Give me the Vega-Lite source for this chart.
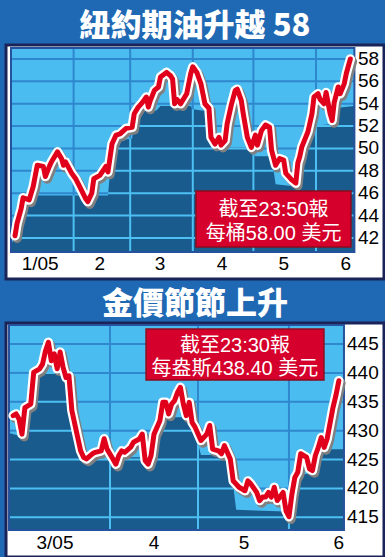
{
"$schema": "https://vega.github.io/schema/vega-lite/v6.json",
"background": "#1f68b3",
"padding": {"left": 4, "top": 9, "right": 3, "bottom": 2},
"spacing": 6,
"config": {
  "view": {"fill": "white", "stroke": "#1b2459", "strokeWidth": 3},
  "title": {"font": "Noto Sans CJK TC", "fontSize": 31, "fontWeight": 900, "color": "white", "anchor": "middle", "offset": 2}
},
"datasets": {
  "one": [{}],
  "oilXLab": [{"d":"2005-01-15T10:00:00Z","t":"1/05"},{"d":"2005-02-14","t":"2"},{"d":"2005-03-15T19:00:00Z","t":"3"},{"d":"2005-04-15T12:00:00Z","t":"4"},{"d":"2005-05-16","t":"5"},{"d":"2005-06-15T19:00:00Z","t":"6"}],
  "oilYLab": [{"v":42,"t":"42"},{"v":44,"t":"44"},{"v":46,"t":"46"},{"v":48,"t":"48"},{"v":50,"t":"50"},{"v":52,"t":"52"},{"v":54,"t":"54"},{"v":56,"t":"56"},{"v":58,"t":"58"}],
  "goldXLab": [{"d":"2005-03-13T06:00:00Z","t":"3/05"},{"d":"2005-04-16","t":"4"},{"d":"2005-05-16T16:00:00Z","t":"5"},{"d":"2005-06-18","t":"6"}],
  "goldYLab": [{"v":415,"t":"415"},{"v":420,"t":"420"},{"v":425,"t":"425"},{"v":430,"t":"430"},{"v":435,"t":"435"},{"v":440,"t":"440"},{"v":445,"t":"445"}],
  "oil": [
    {"d":"2005-01-03","v":42.2},{"d":"2005-01-04","v":43.3},{"d":"2005-01-06","v":44.6},{"d":"2005-01-07","v":45.6},
    {"d":"2005-01-10","v":45.4},{"d":"2005-01-12","v":46.6},{"d":"2005-01-14","v":48.5},{"d":"2005-01-17","v":48.4},
    {"d":"2005-01-18","v":47.5},{"d":"2005-01-20","v":48.4},{"d":"2005-01-21","v":48.8},{"d":"2005-01-24","v":49.7},
    {"d":"2005-01-26","v":49.1},{"d":"2005-01-27","v":48.5},{"d":"2005-01-28","v":48.8},{"d":"2005-01-31","v":47.8},
    {"d":"2005-02-02","v":47.3},{"d":"2005-02-04","v":46.6},{"d":"2005-02-07","v":45.5},{"d":"2005-02-08","v":45.25},
    {"d":"2005-02-10","v":46.0},{"d":"2005-02-11","v":47.3},{"d":"2005-02-14","v":47.6},{"d":"2005-02-17","v":48.4},
    {"d":"2005-02-18","v":47.9},{"d":"2005-02-20","v":50.4},{"d":"2005-02-22","v":51.2},{"d":"2005-02-24","v":51.3},
    {"d":"2005-02-27","v":51.8},{"d":"2005-03-02","v":51.9},{"d":"2005-03-03","v":53.1},{"d":"2005-03-05","v":53.7},
    {"d":"2005-03-07","v":54.1},{"d":"2005-03-09","v":54.6},{"d":"2005-03-10","v":53.7},{"d":"2005-03-11","v":54.3},
    {"d":"2005-03-13","v":55.2},{"d":"2005-03-15","v":55.5},{"d":"2005-03-16","v":56.4},{"d":"2005-03-19","v":56.8},
    {"d":"2005-03-21","v":56.5},{"d":"2005-03-22","v":56.2},{"d":"2005-03-23","v":54.0},{"d":"2005-03-24","v":54.4},
    {"d":"2005-03-26","v":54.0},{"d":"2005-03-28","v":54.6},{"d":"2005-03-29","v":54.9},{"d":"2005-03-31","v":56.7},
    {"d":"2005-04-01","v":57.3},{"d":"2005-04-03","v":56.8},{"d":"2005-04-05","v":55.8},{"d":"2005-04-07","v":54.0},
    {"d":"2005-04-09","v":53.6},{"d":"2005-04-10","v":51.0},{"d":"2005-04-12","v":50.4},{"d":"2005-04-14","v":51.0},
    {"d":"2005-04-15","v":50.3},{"d":"2005-04-17","v":50.7},{"d":"2005-04-18","v":52.2},{"d":"2005-04-20","v":53.85},
    {"d":"2005-04-22","v":55.2},{"d":"2005-04-23","v":55.3},{"d":"2005-04-25","v":54.3},{"d":"2005-04-26","v":53.1},
    {"d":"2005-04-28","v":51.0},{"d":"2005-04-30","v":50.1},{"d":"2005-05-02","v":51.2},{"d":"2005-05-03","v":50.3},
    {"d":"2005-05-05","v":51.6},{"d":"2005-05-07","v":52.1},{"d":"2005-05-09","v":51.9},{"d":"2005-05-10","v":49.85},
    {"d":"2005-05-12","v":48.5},{"d":"2005-05-14","v":49.1},{"d":"2005-05-16","v":48.96},{"d":"2005-05-17","v":47.8},
    {"d":"2005-05-20","v":47.2},{"d":"2005-05-22","v":46.9},{"d":"2005-05-23","v":48.7},{"d":"2005-05-24","v":49.3},
    {"d":"2005-05-25","v":50.15},{"d":"2005-05-28","v":51.5},{"d":"2005-05-30","v":53.1},{"d":"2005-05-31","v":54.6},
    {"d":"2005-06-02","v":54.9},{"d":"2005-06-03","v":54.4},{"d":"2005-06-05","v":54.0},{"d":"2005-06-06","v":55.0},
    {"d":"2005-06-08","v":53.1},{"d":"2005-06-09","v":52.5},{"d":"2005-06-10","v":54.1},{"d":"2005-06-12","v":55.5},
    {"d":"2005-06-13","v":54.9},{"d":"2005-06-15","v":55.8},{"d":"2005-06-16","v":56.7},{"d":"2005-06-18","v":58.0}
  ],
  "oilFloor": [
    {"d":"2005-01-01","f":41.5},{"d":"2005-01-03","f":41.9},{"d":"2005-01-04","f":42.8},{"d":"2005-01-06","f":44.2},
    {"d":"2005-01-07","f":45.2},{"d":"2005-01-10","f":45.2},{"d":"2005-01-12","f":45.8},{"d":"2005-02-04","f":45.8},
    {"d":"2005-02-08","f":45.1},{"d":"2005-02-10","f":45.5},{"d":"2005-02-11","f":45.8},{"d":"2005-02-18","f":45.8},
    {"d":"2005-02-20","f":49.8},{"d":"2005-02-22","f":50.7},{"d":"2005-03-02","f":50.9},{"d":"2005-03-03","f":52.8},
    {"d":"2005-03-05","f":53.3},{"d":"2005-03-14","f":53.4},{"d":"2005-03-16","f":53.8},{"d":"2005-03-31","f":53.8},
    {"d":"2005-04-01","f":53.5},{"d":"2005-04-09","f":53.3},{"d":"2005-04-10","f":50.5},{"d":"2005-04-12","f":50.1},
    {"d":"2005-04-28","f":50.1},{"d":"2005-04-30","f":49.7},{"d":"2005-05-02","f":49.3},{"d":"2005-05-10","f":49.3},
    {"d":"2005-05-11","f":48.0},{"d":"2005-05-12","f":46.8},{"d":"2005-05-22","f":46.6},{"d":"2005-05-23","f":48.3},
    {"d":"2005-05-24","f":49.0},{"d":"2005-05-25","f":49.7},{"d":"2005-05-28","f":49.8},{"d":"2005-05-30","f":52.0},
    {"d":"2005-06-09","f":52.2},{"d":"2005-06-10","f":53.6},{"d":"2005-06-20","f":53.8}
  ],
  "oilH": [{"v":42},{"v":44},{"v":46},{"v":48},{"v":50},{"v":52},{"v":54},{"v":56},{"v":58}],
  "oilV": [{"d":"2005-02-01","f":45.8},{"d":"2005-03-01","f":50.9},{"d":"2005-04-01","f":53.5},{"d":"2005-05-01","f":49.5},{"d":"2005-06-01","f":52.05}],
  "oilSeg": [
    {"v":58,"a":"2005-01-01","b":"2005-06-20"},{"v":56,"a":"2005-01-01","b":"2005-06-20"},{"v":54,"a":"2005-01-01","b":"2005-06-20"},
    {"v":52,"a":"2005-01-01","b":"2005-03-02T14:00:00Z"},{"v":52,"a":"2005-04-09T11:00:00Z","b":"2005-05-30"},
    {"v":50,"a":"2005-01-01","b":"2005-02-20T10:00:00Z"},{"v":50,"a":"2005-04-28T12:00:00Z","b":"2005-05-28T05:00:00Z"},
    {"v":48,"a":"2005-01-01","b":"2005-02-19T02:00:00Z"},{"v":48,"a":"2005-05-11","b":"2005-05-22T19:00:00Z"},
    {"v":46,"a":"2005-01-01","b":"2005-02-18T02:00:00Z"},{"v":44,"a":"2005-01-01","b":"2005-01-05T17:00:00Z"},
    {"v":42,"a":"2005-01-01","b":"2005-01-03T02:00:00Z"}
  ],
  "gold": [
    {"d":"2005-02-27","v":432.6},{"d":"2005-02-28","v":432.9},{"d":"2005-03-01","v":432.0},{"d":"2005-03-02","v":429.4},
    {"d":"2005-03-03","v":434.0},{"d":"2005-03-05","v":434.6},{"d":"2005-03-06","v":440.1},{"d":"2005-03-08","v":440.7},
    {"d":"2005-03-09","v":441.5},{"d":"2005-03-10","v":443.8},{"d":"2005-03-11","v":445.3},{"d":"2005-03-12","v":442.1},
    {"d":"2005-03-13","v":443.3},{"d":"2005-03-14","v":440.7},{"d":"2005-03-15","v":443.6},{"d":"2005-03-16","v":441.0},
    {"d":"2005-03-17","v":439.2},{"d":"2005-03-18","v":439.5},{"d":"2005-03-19","v":433.5},{"d":"2005-03-21","v":428.8},
    {"d":"2005-03-22","v":426.5},{"d":"2005-03-23","v":425.4},{"d":"2005-03-24","v":425.1},{"d":"2005-03-26","v":426.0},
    {"d":"2005-03-27","v":426.25},{"d":"2005-03-29","v":426.5},{"d":"2005-03-30","v":428.6},{"d":"2005-03-31","v":426.8},
    {"d":"2005-04-02","v":425.1},{"d":"2005-04-03","v":424.2},{"d":"2005-04-04","v":425.7},{"d":"2005-04-05","v":426.5},
    {"d":"2005-04-06","v":426.25},{"d":"2005-04-08","v":427.1},{"d":"2005-04-09","v":428.0},{"d":"2005-04-11","v":428.55},
    {"d":"2005-04-12","v":429.4},{"d":"2005-04-13","v":424.8},{"d":"2005-04-14","v":424.2},{"d":"2005-04-15","v":425.7},
    {"d":"2005-04-16","v":429.4},{"d":"2005-04-18","v":431.7},{"d":"2005-04-19","v":434.9},{"d":"2005-04-20","v":434.9},
    {"d":"2005-04-21","v":432.9},{"d":"2005-04-22","v":434.6},{"d":"2005-04-23","v":435.2},{"d":"2005-04-24","v":436.6},
    {"d":"2005-04-25","v":437.5},{"d":"2005-04-26","v":434.6},{"d":"2005-04-27","v":432.6},{"d":"2005-04-28","v":434.9},
    {"d":"2005-04-29","v":431.4},{"d":"2005-04-30","v":430.6},{"d":"2005-05-02","v":428.3},{"d":"2005-05-04","v":429.4},
    {"d":"2005-05-05","v":430.9},{"d":"2005-05-06","v":426.8},{"d":"2005-05-08","v":426.5},{"d":"2005-05-09","v":426.0},
    {"d":"2005-05-10","v":427.4},{"d":"2005-05-12","v":425.1},{"d":"2005-05-13","v":421.3},{"d":"2005-05-15","v":420.2},
    {"d":"2005-05-17","v":419.6},{"d":"2005-05-18","v":421.3},{"d":"2005-05-19","v":420.8},{"d":"2005-05-21","v":419.3},
    {"d":"2005-05-22","v":417.9},{"d":"2005-05-23","v":418.5},{"d":"2005-05-24","v":418.5},{"d":"2005-05-25","v":419.3},
    {"d":"2005-05-26","v":418.5},{"d":"2005-05-27","v":420.2},{"d":"2005-05-28","v":417.9},{"d":"2005-05-30","v":419.3},
    {"d":"2005-05-31","v":416.1},{"d":"2005-06-01","v":415.1},{"d":"2005-06-02","v":419.0},{"d":"2005-06-03","v":421.9},
    {"d":"2005-06-04","v":422.8},{"d":"2005-06-05","v":426.0},{"d":"2005-06-07","v":425.4},{"d":"2005-06-08","v":423.4},
    {"d":"2005-06-09","v":423.1},{"d":"2005-06-10","v":425.7},{"d":"2005-06-11","v":427.1},{"d":"2005-06-12","v":428.8},
    {"d":"2005-06-13","v":427.1},{"d":"2005-06-14","v":428.55},{"d":"2005-06-16","v":434.0},{"d":"2005-06-17","v":436.1},
    {"d":"2005-06-18","v":438.65}
  ],
  "goldFloor": [
    {"d":"2005-02-25T13:50:00Z","f":429.6},{"d":"2005-03-02","f":429.0},{"d":"2005-03-04","f":429.8},{"d":"2005-03-06","f":437.0},
    {"d":"2005-03-08","f":440.0},{"d":"2005-03-16","f":440.3},{"d":"2005-03-17","f":439.0},{"d":"2005-03-18","f":438.5},
    {"d":"2005-03-19","f":432.0},{"d":"2005-03-21","f":426.5},{"d":"2005-03-22","f":425.4},{"d":"2005-04-02","f":425.0},
    {"d":"2005-04-03","f":424.6},{"d":"2005-04-04","f":425.4},{"d":"2005-04-12","f":425.4},{"d":"2005-04-13","f":424.6},
    {"d":"2005-04-14","f":424.4},{"d":"2005-04-15","f":425.4},{"d":"2005-04-16","f":428.0},{"d":"2005-04-18","f":431.5},
    {"d":"2005-04-19","f":432.3},{"d":"2005-04-28","f":432.3},{"d":"2005-04-29","f":430.5},{"d":"2005-04-30","f":429.8},
    {"d":"2005-05-02","f":425.8},{"d":"2005-05-10","f":425.8},{"d":"2005-05-12","f":424.5},{"d":"2005-05-13","f":420.5},
    {"d":"2005-05-14","f":416.3},{"d":"2005-05-31","f":416.0},{"d":"2005-06-01","f":415.0},{"d":"2005-06-02","f":417.5},
    {"d":"2005-06-03","f":421.0},{"d":"2005-06-04","f":422.5},{"d":"2005-06-09","f":422.5},{"d":"2005-06-10","f":424.5},
    {"d":"2005-06-11","f":426.8},{"d":"2005-06-19T18:00:00Z","f":426.8}
  ],
  "goldH": [{"v":415},{"v":420},{"v":425},{"v":430},{"v":435},{"v":440},{"v":445}],
  "goldV": [{"d":"2005-04-01","f":425.0},{"d":"2005-05-01","f":427.8},{"d":"2005-06-01","f":415.0}],
  "goldSeg": [
    {"v":445,"a":"2005-02-25T13:50:00Z","b":"2005-06-19T18:00:00Z"},
    {"v":440,"a":"2005-02-25T13:50:00Z","b":"2005-03-08"},{"v":440,"a":"2005-03-16T05:00:00Z","b":"2005-06-19T18:00:00Z"},
    {"v":435,"a":"2005-02-25T13:50:00Z","b":"2005-03-05T10:00:00Z"},{"v":435,"a":"2005-03-18T13:00:00Z","b":"2005-06-19T18:00:00Z"},
    {"v":430,"a":"2005-02-25T13:50:00Z","b":"2005-03-04T01:00:00Z"},{"v":430,"a":"2005-03-19T17:00:00Z","b":"2005-04-17T03:00:00Z"},
    {"v":430,"a":"2005-04-29T17:00:00Z","b":"2005-06-19T18:00:00Z"},
    {"v":425,"a":"2005-05-11T05:00:00Z","b":"2005-06-10T05:00:00Z"},
    {"v":420,"a":"2005-05-13T03:00:00Z","b":"2005-06-02T17:00:00Z"}
  ]
},
"vconcat": [
  {
    "title": "紐約期油升越 58",
    "width": 378, "height": 234,
    "layer": [
      {"data": {"name": "one"}, "mark": {"type": "rect", "fill": "#1a5b8e"},
       "encoding": {
         "x": {"datum": {"year":2005,"month":1,"date":1,"utc":true}, "type": "temporal", "scale": {"type": "utc", "domain": [{"year":2004,"month":12,"date":29,"hours":12,"minutes":35,"utc":true},{"year":2005,"month":7,"date":4,"hours":15,"minutes":50,"utc":true}]}, "axis": null},
         "x2": {"datum": {"year":2005,"month":6,"date":20,"utc":true}},
         "y": {"datum": 40.749, "type": "quantitative", "scale": {"domain": [38.335, 59.251], "nice": false, "zero": false}, "axis": null},
         "y2": {"datum": 58.983}}},
      {"data": {"name": "oilH"}, "mark": {"type": "rule", "color": "#4cc0f2", "strokeWidth": 2},
       "encoding": {
         "x": {"datum": {"year":2005,"month":1,"date":1,"utc":true}, "type": "temporal", "axis": null},
         "x2": {"datum": {"year":2005,"month":6,"date":20,"utc":true}},
         "y": {"field": "v", "type": "quantitative", "axis": null}}},
      {"data": {"name": "oilV"}, "mark": {"type": "rule", "color": "#4cc0f2", "strokeWidth": 2},
       "encoding": {
         "x": {"field": "d", "type": "temporal", "axis": null},
         "y": {"datum": 40.749, "type": "quantitative", "axis": null},
         "y2": {"datum": 58.983}}},
      {"data": {"name": "oilFloor"}, "mark": {"type": "area", "color": "#4bbcf0"},
       "encoding": {
         "x": {"field": "d", "type": "temporal", "axis": null},
         "y": {"field": "f", "type": "quantitative", "axis": null},
         "y2": {"datum": 58.983}}},
      {"data": {"name": "oilSeg"}, "mark": {"type": "rule", "color": "#2f87cd", "strokeWidth": 2},
       "encoding": {
         "x": {"field": "a", "type": "temporal", "axis": null},
         "x2": {"field": "b"},
         "y": {"field": "v", "type": "quantitative", "axis": null}}},
      {"data": {"name": "oilV"}, "mark": {"type": "rule", "color": "#2f87cd", "strokeWidth": 2},
       "encoding": {
         "x": {"field": "d", "type": "temporal", "axis": null},
         "y": {"field": "f", "type": "quantitative", "axis": null},
         "y2": {"datum": 58.983}}},
      {"data": {"name": "one"}, "mark": {"type": "rect", "fillOpacity": 0, "stroke": "#26519d", "strokeWidth": 2},
       "encoding": {
         "x": {"datum": {"year":2005,"month":1,"date":1,"utc":true}, "type": "temporal", "axis": null},
         "x2": {"datum": {"year":2005,"month":6,"date":20,"utc":true}},
         "y": {"datum": 40.749, "type": "quantitative", "axis": null},
         "y2": {"datum": 58.983}}},
      {"data": {"name": "oil"}, "mark": {"type": "line", "color": "#808080", "strokeWidth": 9.5, "xOffset": 2, "yOffset": 2.5, "strokeJoin": "round", "strokeCap": "round"},
       "encoding": {
         "x": {"field": "d", "type": "temporal", "axis": null},
         "y": {"field": "v", "type": "quantitative", "axis": null}}},
      {"data": {"name": "oil"}, "mark": {"type": "line", "color": "#ffffff", "strokeWidth": 9.5, "strokeJoin": "round", "strokeCap": "round"},
       "encoding": {
         "x": {"field": "d", "type": "temporal", "axis": null},
         "y": {"field": "v", "type": "quantitative", "axis": null}}},
      {"data": {"name": "oil"}, "mark": {"type": "line", "color": "#e1001c", "strokeWidth": 5, "strokeJoin": "round", "strokeCap": "round"},
       "encoding": {
         "x": {"field": "d", "type": "temporal", "axis": null},
         "y": {"field": "v", "type": "quantitative", "axis": null}}},
      {"data": {"name": "oilXLab"}, "mark": {"type": "text", "font": "Liberation Sans", "fontSize": 19, "color": "#000000", "align": "center", "baseline": "middle"},
       "encoding": {
         "x": {"field": "d", "type": "temporal", "axis": null},
         "y": {"datum": 39.68, "type": "quantitative", "axis": null},
         "text": {"field": "t"}}},
      {"data": {"name": "oilYLab"}, "mark": {"type": "text", "font": "Liberation Sans", "fontSize": 19, "color": "#000000", "align": "left", "baseline": "middle"},
       "encoding": {
         "x": {"datum": {"year":2005,"month":6,"date":21,"hours":19,"utc":true}, "type": "temporal", "axis": null},
         "y": {"field": "v", "type": "quantitative", "axis": null},
         "text": {"field": "t"}}},
      {"data": {"name": "one"}, "mark": {"type": "rect", "fill": "#d5002b", "stroke": "#8c0d1e", "strokeWidth": 1.5},
       "encoding": {
         "x": {"datum": {"year":2005,"month":4,"date":2,"hours":14,"utc":true}, "type": "temporal", "axis": null},
         "x2": {"datum": {"year":2005,"month":6,"date":18,"hours":7,"utc":true}},
         "y": {"datum": 41.2, "type": "quantitative", "axis": null},
         "y2": {"datum": 46.2}}},
      {"data": {"name": "one"}, "mark": {"type": "text", "text": ["截至23:50報", "每桶58.00 美元"], "font": "Liberation Sans, Noto Sans CJK TC", "fontSize": 20, "lineHeight": 24, "color": "#ffffff", "align": "center", "baseline": "middle"},
       "encoding": {
         "x": {"datum": {"year":2005,"month":5,"date":11,"utc":true}, "type": "temporal", "axis": null},
         "y": {"datum": 44.5, "type": "quantitative", "axis": null}}}
    ]
  },
  {
    "title": "金價節節上升",
    "width": 378, "height": 234,
    "layer": [
      {"data": {"name": "one"}, "mark": {"type": "rect", "fill": "#1a5b8e"},
       "encoding": {
         "x": {"datum": {"year":2005,"month":2,"date":25,"hours":13,"minutes":50,"utc":true}, "type": "temporal", "scale": {"type": "utc", "domain": [{"year":2005,"month":2,"date":24,"hours":13,"minutes":18,"utc":true},{"year":2005,"month":7,"date":3,"hours":9,"minutes":22,"utc":true}]}, "axis": null},
         "x2": {"datum": {"year":2005,"month":6,"date":19,"hours":18,"utc":true}},
         "y": {"datum": 412.8, "type": "quantitative", "scale": {"domain": [408.13, 448.634], "nice": false, "zero": false}, "axis": null},
         "y2": {"datum": 448.29}}},
      {"data": {"name": "goldH"}, "mark": {"type": "rule", "color": "#4cc0f2", "strokeWidth": 2},
       "encoding": {
         "x": {"datum": {"year":2005,"month":2,"date":25,"hours":13,"minutes":50,"utc":true}, "type": "temporal", "axis": null},
         "x2": {"datum": {"year":2005,"month":6,"date":19,"hours":18,"utc":true}},
         "y": {"field": "v", "type": "quantitative", "axis": null}}},
      {"data": {"name": "goldV"}, "mark": {"type": "rule", "color": "#4cc0f2", "strokeWidth": 2},
       "encoding": {
         "x": {"field": "d", "type": "temporal", "axis": null},
         "y": {"datum": 412.8, "type": "quantitative", "axis": null},
         "y2": {"datum": 448.29}}},
      {"data": {"name": "goldFloor"}, "mark": {"type": "area", "color": "#4bbcf0"},
       "encoding": {
         "x": {"field": "d", "type": "temporal", "axis": null},
         "y": {"field": "f", "type": "quantitative", "axis": null},
         "y2": {"datum": 448.29}}},
      {"data": {"name": "goldSeg"}, "mark": {"type": "rule", "color": "#2f87cd", "strokeWidth": 2},
       "encoding": {
         "x": {"field": "a", "type": "temporal", "axis": null},
         "x2": {"field": "b"},
         "y": {"field": "v", "type": "quantitative", "axis": null}}},
      {"data": {"name": "goldV"}, "mark": {"type": "rule", "color": "#2f87cd", "strokeWidth": 2},
       "encoding": {
         "x": {"field": "d", "type": "temporal", "axis": null},
         "y": {"field": "f", "type": "quantitative", "axis": null},
         "y2": {"datum": 448.29}}},
      {"data": {"name": "one"}, "mark": {"type": "rect", "fillOpacity": 0, "stroke": "#26519d", "strokeWidth": 2},
       "encoding": {
         "x": {"datum": {"year":2005,"month":2,"date":25,"hours":13,"minutes":50,"utc":true}, "type": "temporal", "axis": null},
         "x2": {"datum": {"year":2005,"month":6,"date":19,"hours":18,"utc":true}},
         "y": {"datum": 412.8, "type": "quantitative", "axis": null},
         "y2": {"datum": 448.29}}},
      {"data": {"name": "gold"}, "mark": {"type": "line", "color": "#808080", "strokeWidth": 9.5, "xOffset": 2, "yOffset": 2.5, "strokeJoin": "round", "strokeCap": "round"},
       "encoding": {
         "x": {"field": "d", "type": "temporal", "axis": null},
         "y": {"field": "v", "type": "quantitative", "axis": null}}},
      {"data": {"name": "gold"}, "mark": {"type": "line", "color": "#ffffff", "strokeWidth": 9.5, "strokeJoin": "round", "strokeCap": "round"},
       "encoding": {
         "x": {"field": "d", "type": "temporal", "axis": null},
         "y": {"field": "v", "type": "quantitative", "axis": null}}},
      {"data": {"name": "gold"}, "mark": {"type": "line", "color": "#e1001c", "strokeWidth": 5, "strokeJoin": "round", "strokeCap": "round"},
       "encoding": {
         "x": {"field": "d", "type": "temporal", "axis": null},
         "y": {"field": "v", "type": "quantitative", "axis": null}}},
      {"data": {"name": "goldXLab"}, "mark": {"type": "text", "font": "Liberation Sans", "fontSize": 19, "color": "#000000", "align": "center", "baseline": "middle"},
       "encoding": {
         "x": {"field": "d", "type": "temporal", "axis": null},
         "y": {"datum": 410.56, "type": "quantitative", "axis": null},
         "text": {"field": "t"}}},
      {"data": {"name": "goldYLab"}, "mark": {"type": "text", "font": "Liberation Sans", "fontSize": 19, "color": "#000000", "align": "left", "baseline": "middle"},
       "encoding": {
         "x": {"datum": {"year":2005,"month":6,"date":20,"hours":19,"utc":true}, "type": "temporal", "axis": null},
         "y": {"field": "v", "type": "quantitative", "axis": null},
         "text": {"field": "t"}}},
      {"data": {"name": "one"}, "mark": {"type": "rect", "fill": "#d5002b", "stroke": "#8c0d1e", "strokeWidth": 1.5},
       "encoding": {
         "x": {"datum": {"year":2005,"month":4,"date":13,"hours":7,"utc":true}, "type": "temporal", "axis": null},
         "x2": {"datum": {"year":2005,"month":6,"date":12,"hours":22,"utc":true}},
         "y": {"datum": 438.77, "type": "quantitative", "axis": null},
         "y2": {"datum": 447.6}}},
      {"data": {"name": "one"}, "mark": {"type": "text", "text": ["截至23:30報", "每盎斯438.40 美元"], "font": "Liberation Sans, Noto Sans CJK TC", "fontSize": 20, "lineHeight": 23, "color": "#ffffff", "align": "center", "baseline": "middle"},
       "encoding": {
         "x": {"datum": {"year":2005,"month":5,"date":13,"hours":14,"utc":true}, "type": "temporal", "axis": null},
         "y": {"datum": 444.65, "type": "quantitative", "axis": null}}}
    ]
  }
]
}
